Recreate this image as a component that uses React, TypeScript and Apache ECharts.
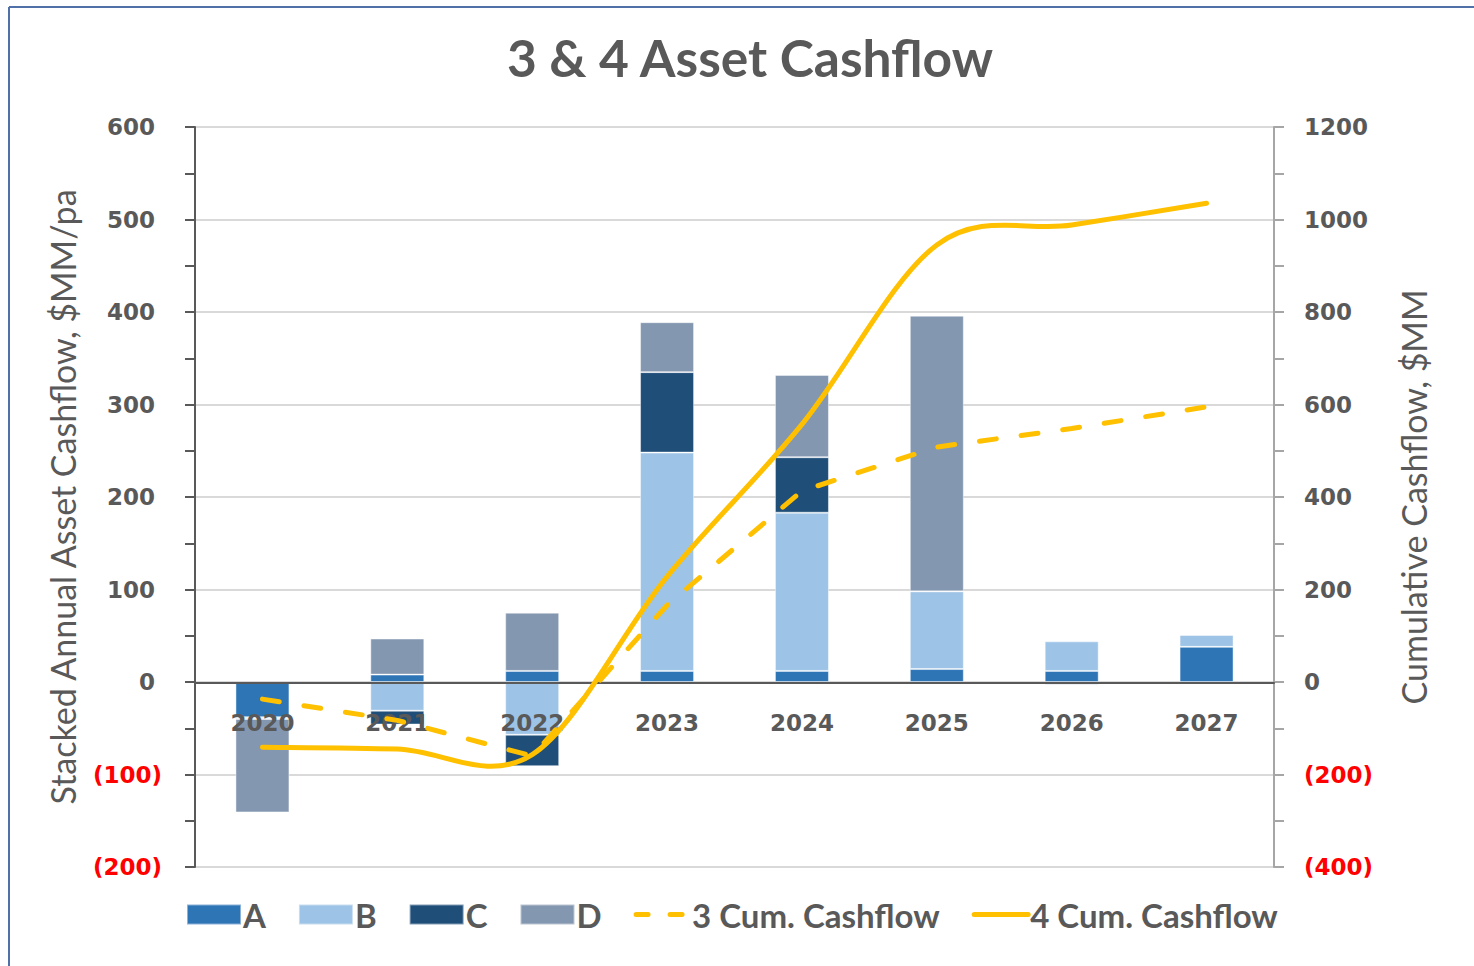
import React, { useEffect, useRef } from "react";
import * as echarts from "echarts";

const years = ["2020", "2021", "2022", "2023", "2024", "2025", "2026", "2027"];
const seriesA = [-38, 8, 12, 12, 12, 14, 12, 38];
const seriesB = [-2, -31, -57, 236, 171, 84, 32, 13];
const seriesC = [0, -15, -34, 87, 60, 0, -3, 0];
const seriesD = [-101, 39, 63, 54, 89, 298, 0, 0];
const cum3 = [-37, -83, -160, 166, 413, 508, 548, 595];
const cum4 = [-141, -145, -157, 228, 557, 945, 988, 1035];

const GRAY = "#595959";
const GOLD = "#FFC000";
const TICK_FONT = "DejaVu Sans";
const TEXT_FONT = "Lato";

export default function App() {
  const ref = useRef<HTMLDivElement>(null);
  useEffect(() => {
    if (!ref.current) return;
    const chart = echarts.init(ref.current, undefined, { renderer: "svg" });
    const fmtLeft = (v: number) => (v < 0 ? `{n|(${-v})}` : `{p|${v}}`);
    const fmtRight = (v: number) => (v < 0 ? `{n|(${-v})}` : `{q|${v}}`);
    const richBase = { fontFamily: TICK_FONT, fontWeight: "bold", fontSize: 23 };
    const rich = {
      n: { ...richBase, color: "#FF0000" },
      p: { ...richBase, color: GRAY, padding: [0, 7, 0, 0] },
      q: { ...richBase, color: GRAY },
    };
    const bar = (name: string, data: number[], color: string) => ({
      name,
      type: "bar",
      stack: "s",
      data,
      barWidth: 54,
      z: 2,
      itemStyle: { color, borderColor: "rgba(255,255,255,0.45)", borderWidth: 1 },
    });
    // Excel-like (Catmull-Rom) smoothed curve, drawn via the axes' scales
    const renderCurve = (params: any, api: any) => {
      if (params.dataIndex !== 0) return null;
      const pts = cum4.map((v, i) => api.coord([i, v]));
      let d = `M${pts[0][0]},${pts[0][1]}`;
      for (let i = 0; i < pts.length - 1; i++) {
        const p0 = pts[i - 1] || pts[i];
        const p1 = pts[i];
        const p2 = pts[i + 1];
        const p3 = pts[i + 2] || pts[i + 1];
        const c1x = p1[0] + (p2[0] - p0[0]) / 6;
        const c1y = p1[1] + (p2[1] - p0[1]) / 6;
        const c2x = p2[0] - (p3[0] - p1[0]) / 6;
        const c2y = p2[1] - (p3[1] - p1[1]) / 6;
        d += ` C${c1x},${c1y} ${c2x},${c2y} ${p2[0]},${p2[1]}`;
      }
      return {
        type: "path",
        shape: { pathData: d },
        style: { stroke: GOLD, lineWidth: 5, fill: "none", lineCap: "round", lineJoin: "round" },
      };
    };
    chart.setOption({
      animation: false,
      backgroundColor: "#ffffff",
      title: {
        text: "3 & 4 Asset Cashflow",
        left: 745,
        textAlign: "center",
        top: 26,
        textStyle: { fontFamily: TEXT_FONT, fontWeight: "bold", fontSize: 51.5, color: GRAY },
      },
      grid: { left: 195, right: 200, top: 127, bottom: 99 },
      legend: {
        bottom: 35,
        left: 186,
        padding: 0,
        itemWidth: 54,
        itemHeight: 20,
        itemGap: 32,
        textStyle: { fontFamily: TEXT_FONT, fontWeight: "bold", fontSize: 33, color: GRAY, padding: [0, 0, 0, -3] },
        data: [
          { name: "A", icon: "rect" },
          { name: "B", icon: "rect" },
          { name: "C", icon: "rect" },
          { name: "D", icon: "rect" },
          {
            name: "3 Cum. Cashflow",
            itemStyle: { opacity: 0 },
            lineStyle: { color: GOLD, width: 5, type: [12, 22], cap: "round", opacity: 1 },
          },
          {
            name: "4 Cum. Cashflow",
            itemStyle: { opacity: 0 },
            lineStyle: { color: GOLD, width: 5, type: "solid", cap: "round", opacity: 1 },
          },
        ],
      },
      xAxis: {
        type: "category",
        data: years,
        offset: -184,
        z: 3,
        axisTick: { show: false },
        axisLine: { onZero: false, lineStyle: { color: GRAY, width: 2 } },
        axisLabel: { fontFamily: TICK_FONT, fontWeight: "bold", fontSize: 23, color: GRAY, margin: 28 },
      },
      yAxis: [
        {
          type: "value",
          min: -200,
          max: 600,
          interval: 100,
          name: "Stacked Annual Asset Cashflow, $MM/pa",
          nameLocation: "middle",
          nameGap: 116,
          nameTextStyle: { fontFamily: TEXT_FONT, fontSize: 34, color: GRAY },
          axisLine: { show: true, lineStyle: { color: GRAY, width: 2 } },
          axisTick: { show: true, length: 10, lineStyle: { color: GRAY, width: 2 } },
          minorTick: { show: true, splitNumber: 2, length: 10, lineStyle: { color: GRAY, width: 2 } },
          splitLine: { lineStyle: { color: "#D9D9D9", width: 2 } },
          axisLabel: { margin: 33, formatter: fmtLeft, rich },
        },
        {
          type: "value",
          min: -400,
          max: 1200,
          interval: 200,
          name: "Cumulative Cashflow, $MM",
          nameLocation: "middle",
          nameGap: 122,
          nameRotate: 90,
          nameTextStyle: { fontFamily: TEXT_FONT, fontSize: 34, color: GRAY },
          axisLine: { show: true, lineStyle: { color: "#A6A6A6", width: 2 } },
          axisTick: { show: true, length: 10, lineStyle: { color: "#A6A6A6", width: 2 } },
          minorTick: { show: true, splitNumber: 2, length: 10, lineStyle: { color: "#A6A6A6", width: 2 } },
          splitLine: { show: false },
          axisLabel: { margin: 30, formatter: fmtRight, rich },
        },
      ],
      series: [
        bar("A", seriesA, "#2E75B6"),
        bar("B", seriesB, "#9DC3E6"),
        bar("C", seriesC, "#1F4E79"),
        bar("D", seriesD, "#8497B0"),
        {
          name: "3 Cum. Cashflow",
          type: "line",
          yAxisIndex: 1,
          data: cum3,
          symbol: "none",
          z: 5,
          lineStyle: { color: GOLD, width: 5, type: [17, 25], cap: "round" },
          itemStyle: { color: GOLD },
        },
        {
          name: "4 Cum. Cashflow",
          type: "line",
          yAxisIndex: 1,
          data: cum4,
          symbol: "none",
          silent: true,
          z: 5,
          lineStyle: { color: GOLD, width: 5, opacity: 0 },
          itemStyle: { color: GOLD },
        },
        {
          name: "4 Cum. Cashflow curve",
          type: "custom",
          yAxisIndex: 1,
          data: cum4.map((v, i) => [i, v]),
          encode: { x: 0, y: 1 },
          clip: false,
          silent: true,
          z: 6,
          renderItem: renderCurve,
          itemStyle: { color: GOLD },
        },
      ],
      graphic: [
        { type: "line", shape: { x1: 9, y1: 7, x2: 1474, y2: 7 }, style: { stroke: "#4F71A8", lineWidth: 2 } },
        { type: "line", shape: { x1: 9, y1: 7, x2: 9, y2: 966 }, style: { stroke: "#4F71A8", lineWidth: 2 } },
      ],
    });
    return () => chart.dispose();
  }, []);
  return (
    <div
      ref={ref}
      style={{ position: "fixed", left: 0, top: 0, width: 1474, height: 966 }}
    />
  );
}
